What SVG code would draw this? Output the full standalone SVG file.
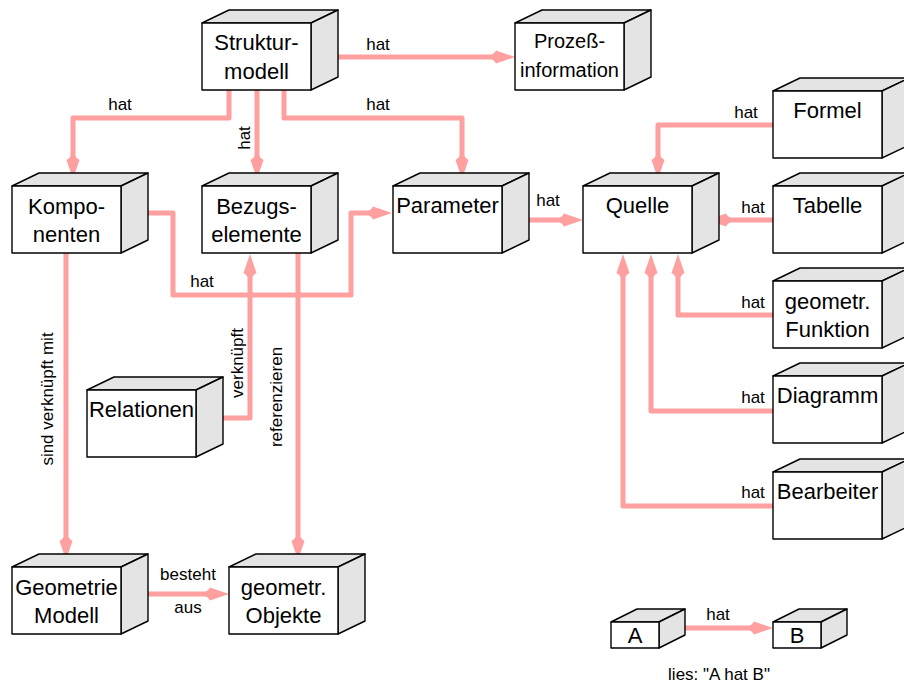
<svg xmlns="http://www.w3.org/2000/svg" xmlns:xlink="http://www.w3.org/1999/xlink" width="904" height="686" viewBox="0 0 904 686">
<style>
.face{fill:#ffffff;stroke:#000;stroke-width:1.4;stroke-linejoin:round}
.shade{fill:#e4e4e4;stroke:#000;stroke-width:1.4;stroke-linejoin:round}
.lbl{font-family:"Liberation Sans",Arial,Helvetica,sans-serif;font-size:22px;fill:#000;text-anchor:middle}
.lbl20{font-family:"Liberation Sans",Arial,Helvetica,sans-serif;font-size:20px;fill:#000;text-anchor:middle}
.el{font-family:"Liberation Sans",Arial,Helvetica,sans-serif;font-size:17px;fill:#000;text-anchor:middle}
.con{fill:none;stroke:#ffa0a0;stroke-width:5;stroke-linejoin:round;stroke-linecap:butt}
</style>
<defs>
<marker id="ah" markerUnits="userSpaceOnUse" markerWidth="40" markerHeight="40" refX="0" refY="0" viewBox="-20 -20 40 40" orient="auto" overflow="visible">
<path d="M12,0 L-7,-6.5 Q-9,-3 -11,-2.5 L-11,2.5 Q-9,3 -7,6.5 Z" fill="#ffa0a0"/>
</marker>
<g id="cube">
<polygon class="shade" points="0,0 27,-13 136,-13 109,0"/>
<polygon class="shade" points="109,0 136,-13 136,54 109,67"/>
<rect class="face" x="0" y="0" width="109" height="67"/>
</g>
<g id="mini">
<polygon class="shade" points="0,0 26,-13 74,-13 48,0"/>
<polygon class="shade" points="48,0 74,-13 74,13 48,26"/>
<rect class="face" x="0" y="0" width="48" height="26"/>
</g>
</defs>
<rect width="904" height="686" fill="#ffffff"/>

<g id="connectors">
<path class="con" marker-end="url(#ah)" d="M338,57 H503"/>
<path class="con" marker-end="url(#ah)" d="M229,90 V118 H73 V167"/>
<path class="con" marker-end="url(#ah)" d="M257,90 V167"/>
<path class="con" marker-end="url(#ah)" d="M284,90 V118 H462 V167"/>
<path class="con" marker-end="url(#ah)" d="M142,213 H173 V295 H351 V213 H380"/>
<path class="con" marker-end="url(#ah)" d="M210,418 H250 V266"/>
<path class="con" marker-end="url(#ah)" d="M298,253 V548"/>
<path class="con" marker-end="url(#ah)" d="M66,253 V548"/>
<path class="con" marker-end="url(#ah)" d="M135,594 H217"/>
<path class="con" marker-end="url(#ah)" d="M512,220 H571"/>
<path class="con" marker-end="url(#ah)" d="M773,125 H658 V167"/>
<path class="con" marker-end="url(#ah)" d="M773,220 H719"/>
<path class="con" marker-end="url(#ah)" d="M773,315 H678 V266"/>
<path class="con" marker-end="url(#ah)" d="M773,411 H651 V266"/>
<path class="con" marker-end="url(#ah)" d="M773,506 H623 V266"/>
<path class="con" marker-end="url(#ah)" d="M659,628 H761"/>
<text class="el" x="378" y="50">hat</text>
<text class="el" x="120" y="110">hat</text>
<text class="el" transform="translate(250,138) rotate(-90)">hat</text>
<text class="el" x="378" y="110">hat</text>
<text class="el" x="202" y="287">hat</text>
<text class="el" transform="translate(243,363) rotate(-90)">verknüpft</text>
<text class="el" transform="translate(282,397) rotate(-90)">referenzieren</text>
<text class="el" transform="translate(53,399) rotate(-90)">sind verknüpft mit</text>
<text class="el" x="188" y="580">besteht</text>
<text class="el" x="188" y="613">aus</text>
<text class="el" x="548" y="206">hat</text>
<text class="el" x="746" y="118">hat</text>
<text class="el" x="753" y="213">hat</text>
<text class="el" x="753" y="308">hat</text>
<text class="el" x="753" y="403">hat</text>
<text class="el" x="753" y="498">hat</text>
<text class="el" x="718" y="620">hat</text>
</g>

<g id="strukturmodell">
<use xlink:href="#cube" x="202" y="23"/>
<text class="lbl" x="256.5" y="50">Struktur-</text>
<text class="lbl" x="256.5" y="79">modell</text>
</g>
<g id="prozessinformation">
<use xlink:href="#cube" x="515" y="23"/>
<text class="lbl20" x="569.5" y="48">Prozeß-</text>
<text class="lbl20" x="569.5" y="77">information</text>
</g>
<g id="komponenten">
<use xlink:href="#cube" x="12" y="186"/>
<text class="lbl" x="66.5" y="214">Kompo-</text>
<text class="lbl" x="66.5" y="242">nenten</text>
</g>
<g id="bezugselemente">
<use xlink:href="#cube" x="202" y="186"/>
<text class="lbl" x="256.5" y="214">Bezugs-</text>
<text class="lbl" x="256.5" y="242">elemente</text>
</g>
<g id="parameter">
<use xlink:href="#cube" x="393" y="186"/>
<text class="lbl" x="447.5" y="213">Parameter</text>
</g>
<g id="quelle">
<use xlink:href="#cube" x="583" y="186"/>
<text class="lbl" x="637.5" y="213">Quelle</text>
</g>
<g id="formel">
<use xlink:href="#cube" x="773" y="91"/>
<text class="lbl" x="827.5" y="118">Formel</text>
</g>
<g id="tabelle">
<use xlink:href="#cube" x="773" y="186"/>
<text class="lbl" x="827.5" y="213">Tabelle</text>
</g>
<g id="geometr-funktion">
<use xlink:href="#cube" x="773" y="281"/>
<text class="lbl" x="827.5" y="309">geometr.</text>
<text class="lbl" x="827.5" y="337">Funktion</text>
</g>
<g id="diagramm">
<use xlink:href="#cube" x="773" y="376"/>
<text class="lbl" x="827.5" y="403">Diagramm</text>
</g>
<g id="bearbeiter">
<use xlink:href="#cube" x="773" y="472"/>
<text class="lbl" x="827.5" y="499">Bearbeiter</text>
</g>
<g id="relationen">
<use xlink:href="#cube" x="87" y="390"/>
<text class="lbl" x="141.5" y="417">Relationen</text>
</g>
<g id="geometrie-modell">
<use xlink:href="#cube" x="12" y="567"/>
<text class="lbl" x="66.5" y="595">Geometrie</text>
<text class="lbl" x="66.5" y="623">Modell</text>
</g>
<g id="geometr-objekte">
<use xlink:href="#cube" x="229" y="567"/>
<text class="lbl" x="283.5" y="595">geometr.</text>
<text class="lbl" x="283.5" y="623">Objekte</text>
</g>
<g id="legend-a">
<use xlink:href="#mini" x="611" y="622"/>
<text class="lbl" x="635" y="643">A</text>
</g>
<g id="legend-b">
<use xlink:href="#mini" x="773" y="622"/>
<text class="lbl" x="797" y="643">B</text>
</g>
<g id="legend-text">
<text class="el" x="719" y="680">lies: "A hat B"</text>
</g>
</svg>
